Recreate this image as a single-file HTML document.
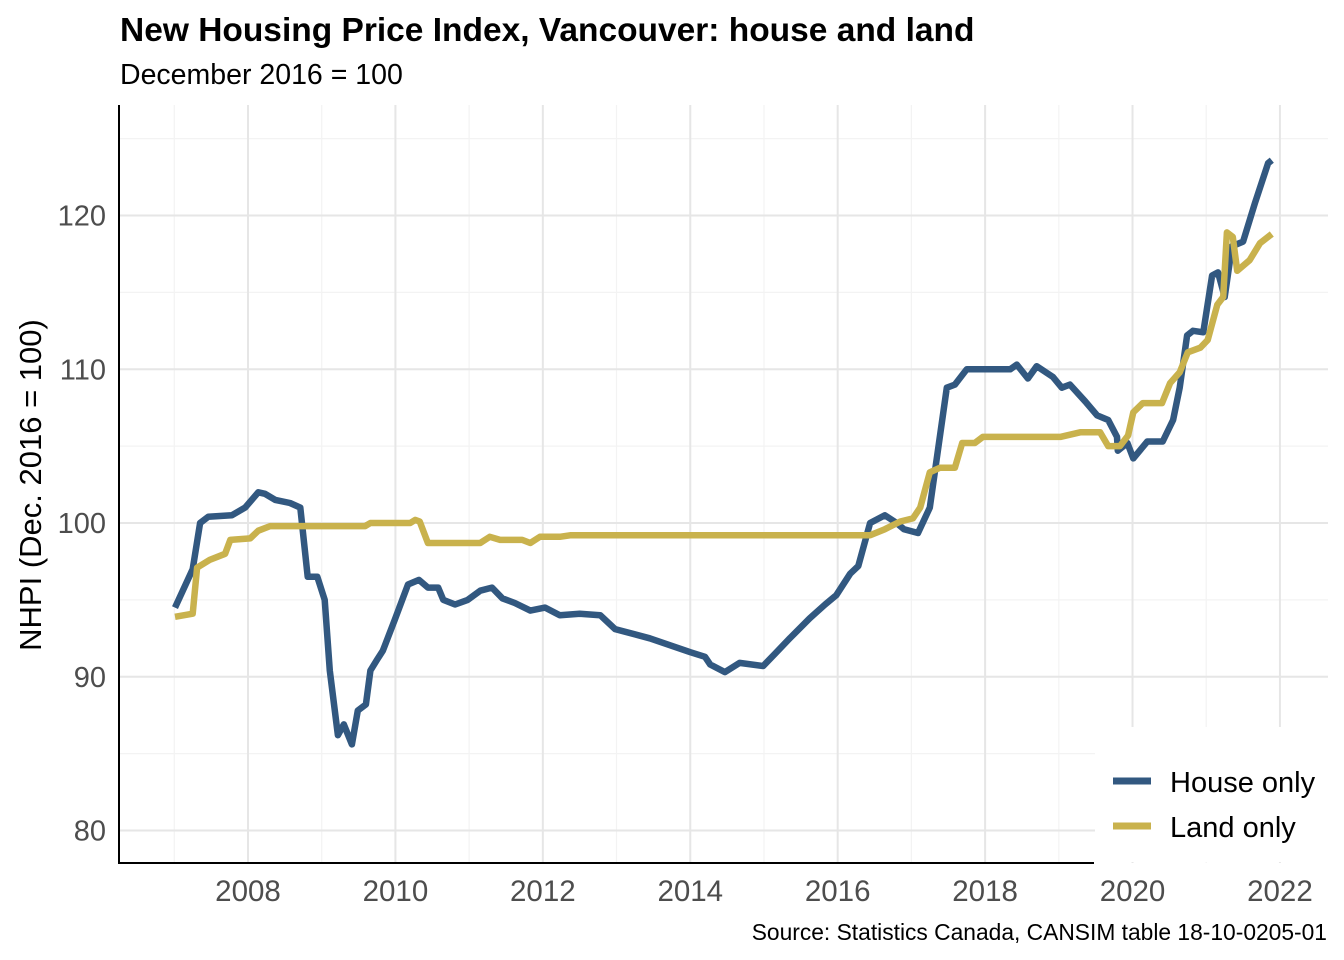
<!DOCTYPE html>
<html><head><meta charset="utf-8"><style>
html,body{margin:0;padding:0;background:#fff;}
svg{display:block;font-family:"Liberation Sans",sans-serif;}
</style></head><body>
<svg id="chart" width="1344" height="960" viewBox="0 0 1344 960">
<text x="120" y="41" font-size="33.5" font-weight="bold" fill="#000">New Housing Price Index, Vancouver: house and land</text>
<text x="120" y="84" font-size="28.5" fill="#000">December 2016 = 100</text>
<g id="grid"></g>
<g id="series"></g>
<g id="axes"></g>
<text transform="translate(41,485) rotate(-90)" text-anchor="middle" font-size="31" fill="#000">NHPI (Dec. 2016 = 100)</text>
<text x="1327" y="940" text-anchor="end" font-size="22.8" fill="#000">Source: Statistics Canada, CANSIM table 18-10-0205-01</text>
<g>
<rect x="1095" y="727" width="234" height="135" fill="#fff"/>
<line x1="1113" y1="781" x2="1151" y2="781" stroke="#325880" stroke-width="7"/>
<text x="1170" y="792" font-size="29" fill="#000">House only</text>
<line x1="1113" y1="826" x2="1151" y2="826" stroke="#c9b24d" stroke-width="7"/>
<text x="1170" y="837" font-size="29" fill="#000">Land only</text>
</g>
</svg>
<script>
const houseDates=[2007.01,2007.25,2007.35,2007.46,2007.78,2007.96,2008.14,2008.23,2008.37,2008.57,2008.71,2008.81,2008.94,2009.04,2009.11,2009.22,2009.30,2009.41,2009.49,2009.60,2009.66,2009.75,2009.83,2009.99,2010.17,2010.32,2010.44,2010.58,2010.65,2010.81,2010.98,2011.15,2011.31,2011.45,2011.62,2011.83,2012.03,2012.23,2012.5,2012.78,2012.98,2013.45,2014.0,2014.2,2014.27,2014.47,2014.67,2014.99,2015.15,2015.35,2015.62,2015.83,2015.98,2016.17,2016.28,2016.44,2016.64,2016.8,2016.9,2017.09,2017.25,2017.48,2017.59,2017.75,2018.34,2018.43,2018.58,2018.7,2018.92,2019.04,2019.15,2019.36,2019.52,2019.67,2019.79,2019.8,2019.93,2020.01,2020.2,2020.41,2020.55,2020.64,2020.74,2020.82,2020.96,2021.08,2021.16,2021.25,2021.35,2021.5,2021.66,2021.84,2021.89];
const houseValues=[94.5,97,100,100.4,100.5,101,102,101.9,101.5,101.3,101,96.5,96.5,95,90.4,86.2,86.9,85.6,87.8,88.2,90.4,91.1,91.7,93.7,96,96.3,95.8,95.8,95,94.7,95,95.6,95.8,95.1,94.8,94.3,94.5,94,94.1,94,93.1,92.5,91.6,91.3,90.8,90.3,90.9,90.7,91.5,92.5,93.8,94.7,95.3,96.7,97.2,100,100.5,100,99.6,99.35,101,108.8,109,110,110,110.3,109.4,110.2,109.5,108.8,109,107.9,107,106.7,105.6,104.7,105.2,104.2,105.3,105.3,106.7,108.8,112.2,112.5,112.4,116.1,116.3,114.7,118,118.3,120.8,123.4,123.6];
const landDates=[2007.01,2007.25,2007.31,2007.48,2007.69,2007.76,2008.03,2008.14,2008.3,2009.59,2009.66,2010.2,2010.27,2010.33,2010.44,2011.15,2011.28,2011.42,2011.72,2011.83,2011.96,2012.23,2012.37,2016.44,2016.64,2016.85,2017.02,2017.12,2017.25,2017.39,2017.59,2017.69,2017.86,2017.97,2019.02,2019.29,2019.56,2019.67,2019.83,2019.94,2020.01,2020.14,2020.4,2020.51,2020.64,2020.75,2020.92,2021.02,2021.15,2021.23,2021.28,2021.36,2021.42,2021.59,2021.73,2021.89];
const landValues=[93.9,94.1,97.1,97.6,98,98.9,99,99.5,99.8,99.8,100,100,100.2,100.1,98.7,98.7,99.1,98.9,98.9,98.7,99.1,99.1,99.2,99.2,99.6,100.1,100.3,101,103.3,103.6,103.6,105.2,105.2,105.6,105.6,105.9,105.9,105,105,105.7,107.2,107.8,107.8,109.1,109.8,111.1,111.4,111.9,114.2,114.7,118.9,118.6,116.4,117.1,118.2,118.8];
const yTicks=[80,90,100,110,120];
const xTicks=[2008,2010,2012,2014,2016,2018,2020,2022];

const NS='http://www.w3.org/2000/svg';
const L=119,R=1328,T=105,B=863;
function xs(v){return 248+(v-2008)*73.71;}
function ys(v){return 523-(v-100)*15.375;}
function mk(tag,attrs,parent){const e=document.createElementNS(NS,tag);for(const k in attrs)e.setAttribute(k,attrs[k]);parent.appendChild(e);return e;}
const grid=document.getElementById('grid'),axes=document.getElementById('axes'),series=document.getElementById('series');
for(let v=85;v<=125;v+=10){const l=mk('line',{x1:L,x2:R,y1:ys(v),y2:ys(v),stroke:'#f3f3f3','stroke-width':1.2},grid);

}
for(let v=2007;v<=2021;v+=2){const l=mk('line',{x1:xs(v),x2:xs(v),y1:T,y2:B,stroke:'#f3f3f3','stroke-width':1.2},grid);

}
yTicks.forEach(v=>{const l=mk('line',{x1:L,x2:R,y1:ys(v),y2:ys(v),stroke:'#e6e6e6','stroke-width':2},grid);


const t=mk('text',{x:106,y:ys(v)+10,'text-anchor':'end','font-size':29,fill:'#4d4d4d'},axes);t.textContent=v;

});
xTicks.forEach(v=>{const l=mk('line',{x1:xs(v),x2:xs(v),y1:T,y2:B,stroke:'#e6e6e6','stroke-width':2},grid);


const t=mk('text',{x:xs(v),y:901,'text-anchor':'middle','font-size':29.5,fill:'#4d4d4d'},axes);t.textContent=v;

});
const ya=mk('line',{x1:L,x2:L,y1:T,y2:B+1,stroke:'#000','stroke-width':2},axes);


const xa=mk('line',{x1:L-1,x2:1094,y1:B,y2:B,stroke:'#000','stroke-width':2},axes);


function path(d,v){return d.map((x,i)=>(i?'L':'M')+xs(x).toFixed(1)+','+ys(v[i]).toFixed(1)).join('');}
const house=mk('path',{d:path(houseDates,houseValues),fill:'none',stroke:'#325880','stroke-width':6.5,'stroke-linejoin':'round'},series);


const land=mk('path',{d:path(landDates,landValues),fill:'none',stroke:'#c9b24d','stroke-width':6.5,'stroke-linejoin':'round'},series);


</script>
</body></html>
